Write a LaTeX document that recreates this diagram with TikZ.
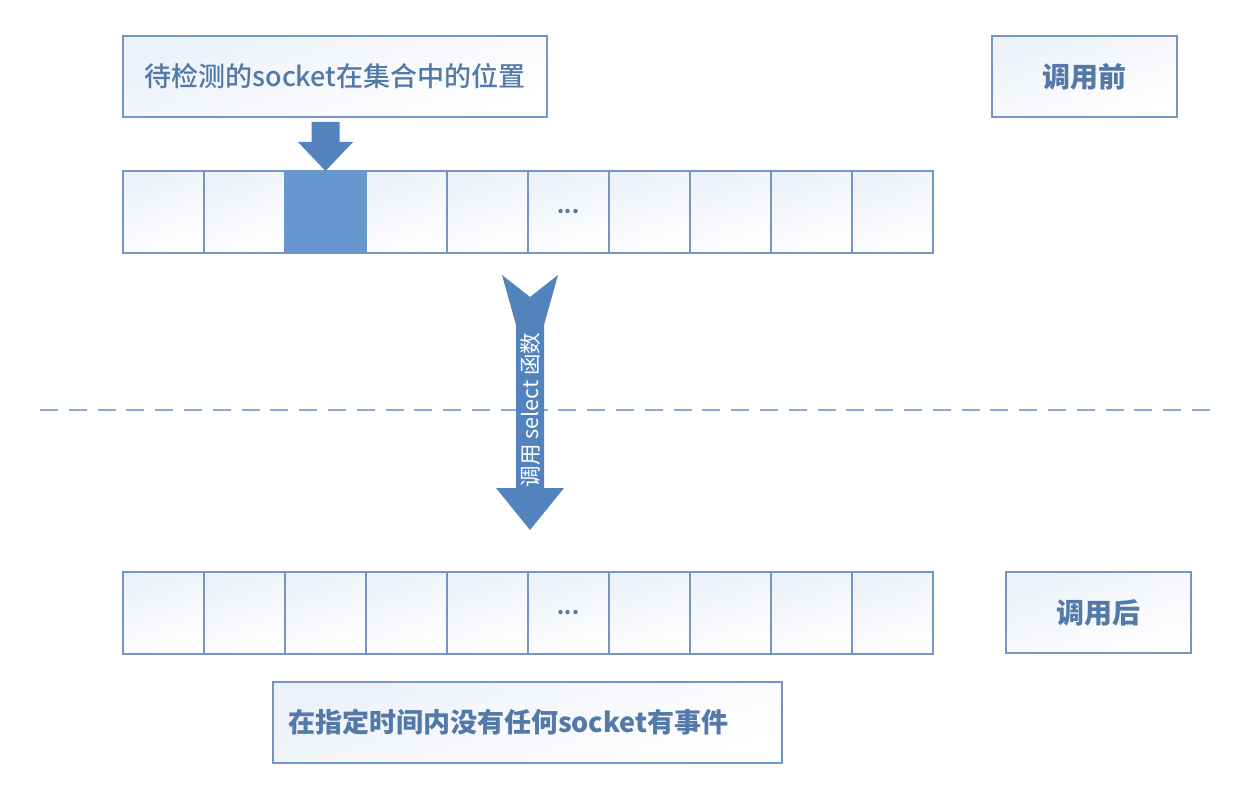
\documentclass[tikz,border=0pt]{standalone}
\usepackage{fontspec}
\setmainfont{Noto Sans CJK SC}
\newfontfamily\mediumcjk{Noto Sans CJK SC}[UprightFont=* Medium]
\definecolor{edge}{HTML}{7397C3}
\definecolor{ink}{HTML}{5279A8}
\definecolor{mark}{HTML}{6797CF}
\definecolor{pointer}{HTML}{5283BD}
\definecolor{paper}{HTML}{EDF1F8}
\definecolor{rule}{HTML}{89A9D3}

\begin{document}
\begin{tikzpicture}[x=1pt,y=-1pt,
  box/.style={draw=edge,line width=1.6pt,top color=paper,bottom color=white,
    shading angle=20,inner sep=0pt,outer sep=0pt,text=ink},
  cell/.style={box,minimum width=81pt,minimum height=82pt,
    font=\fontsize{20}{24}\selectfont\bfseries},
  pick2/.style={shade=false,fill=mark},
  label/.style={box,minimum height=81pt,font=\fontsize{27}{32}\selectfont\mediumcjk},
  tag/.style={label,minimum width=185pt,font=\fontsize{28}{32}\selectfont\bfseries}]
\path[use as bounding box,fill=white] (0,0) rectangle (1234,794);

% before the call
\node[label,minimum width=424pt,anchor=north west] (query) at (123,36) {待检测的socket在集合中的位置};
\node[tag,anchor=north west] (before) at (992,36) {调用前};
\foreach \i in {0,...,9}
  \node[cell,pick\i/.try,anchor=north west] (top\i) at ({123+81*\i},171) {\ifnum\i=5 ...\fi};
\fill[pointer] (top2.north) -- ++(-27.5,-29) -- ++(13.5,0) -- ++(0,-20)
  -- ++(28,0) -- ++(0,20) -- ++(13.5,0) -- cycle;

% separator
\coordinate (sepL) at (40,410);
\coordinate (sepR) at (1210,410);
\draw[rule,line width=2pt,dash pattern=on 18pt off 10.8pt] (sepL) -- (sepR);

% the select call
\coordinate (spine) at (530,275);
\fill[pointer] (spine) ++(-28,0) -- ++(28,22) -- ++(28,-22) -- ++(-14,50)
  -- ++(0,163) -- ++(20,0) -- ++(-34,42) -- ++(-34,-42) -- ++(20,0)
  -- ++(0,-163) -- cycle;
\node[rotate=90,text=white,font=\fontsize{21.5}{24}\selectfont] (callname) at (530,410) {调用 select 函数};

% after the call
\foreach \i in {0,...,9}
  \node[cell,anchor=north west] (low\i) at ({123+81*\i},572) {\ifnum\i=5 ...\fi};
\node[tag,anchor=north west] (after) at (1006,572) {调用后};
\node[label,minimum width=509pt,anchor=north west,align=left,text width=509pt,
  font=\fontsize{27}{32}\selectfont\bfseries] (idle) at (273,682) {\hspace*{15pt}在指定时间内没有任何socket有事件};
\end{tikzpicture}
\end{document}
